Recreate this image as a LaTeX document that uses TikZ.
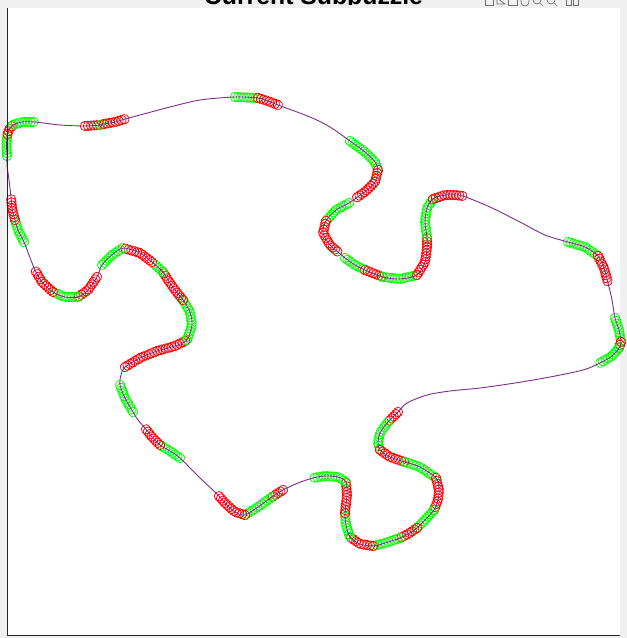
\documentclass[tikz,border=0pt]{standalone}
\usepackage{fontspec}
\setmainfont{Liberation Sans}
\usetikzlibrary{decorations.markings}
\definecolor{mred}{RGB}{255,0,0}
\definecolor{mgreen}{RGB}{0,255,0}
\definecolor{mpurple}{RGB}{126,47,142}
\definecolor{figgray}{RGB}{240,240,240}
\definecolor{axgray}{RGB}{38,38,38}
\definecolor{icongray}{RGB}{110,110,110}
\tikzset{
  rseg/.style={decoration={markings, mark=between positions 0 and 1 step 3pt with {\draw[mred, line width=0.75pt] (0,0) circle[radius=4.7pt];}}, decorate},
  gseg/.style={decoration={markings, mark=between positions 0 and 1 step 3pt with {\draw[mgreen, line width=0.75pt] (0,0) circle[radius=4.7pt];}}, decorate},
  curve/.style={draw=mpurple, line width=0.9pt},
  icon/.style={draw=icongray, line width=0.7pt},
  axisline/.style={draw=axgray, line width=1pt},
  titletext/.style={font=\bfseries\fontsize{24.8}{28}\selectfont, anchor=base, inner sep=0pt},
}
\begin{document}
\begin{tikzpicture}[x=1pt,y=-1pt]
\fill[figgray] (0,0) rectangle (627,638);
\useasboundingbox (0,0) rectangle (627,638);
\begin{scope}
\clip (0,-30) rectangle (627,4.5);
\node[titletext] (title) at (313.5,4) {Current Subpuzzle};
\end{scope}
\fill[white] (7,8) rectangle (620,635);
% toolbar icons (cut off)
\draw[icon] (485,-2) rectangle (493,5);
\draw[icon] (497,-2) -- (505,4) -- (497,4) -- cycle;
\draw[icon] (508,-2) rectangle (517,5);
\draw[icon] (521,-2) -- (521,2) arc[start angle=180,end angle=360,radius=4pt] -- (529,-2);
\draw[icon] (537,0) circle[radius=4pt]; \draw[icon] (540,3) -- (543,6);
\draw[icon] (551,0) circle[radius=4pt]; \draw[icon] (554,3) -- (557,6);
\draw[icon] (566,-2) rectangle (571,5); \draw[icon] (573,-2) rectangle (578,5);
% colored segments
\path[gseg] plot coordinates {(7,156) (6.5,145) (7.5,134)};
\path[rseg] plot coordinates {(7.5,134) (10,128) (13,125)};
\path[gseg] plot coordinates {(13,125) (22,122) (35,122)};
\path[rseg] plot coordinates {(85,126) (100,125)};
\path[gseg] plot coordinates {(100,125) (104,124)};
\path[rseg] plot coordinates {(104,124) (115,122) (125,119)};
\path[gseg] plot coordinates {(235,97) (258,98)};
\path[rseg] plot coordinates {(258,98) (268,101) (278,105)};
\path[gseg] plot coordinates {(350,141) (365,152) (375,162) (378,170)};
\path[rseg] plot coordinates {(378,170) (375,182) (366,191) (356,198)};
\path[gseg] plot coordinates {(349,203) (336,210) (326,221)};
\path[rseg] plot coordinates {(326,221) (323,233) (330,245) (338,252)};
\path[gseg] plot coordinates {(345,258) (355,265) (365,270)};
\path[rseg] plot coordinates {(365,270) (383,277)};
\path[gseg] plot coordinates {(383,277) (400,279) (417,275)};
\path[rseg] plot coordinates {(417,275) (425,262) (427,248) (427,237)};
\path[gseg] plot coordinates {(427,237) (425,222) (427,208) (433,199)};
\path[rseg] plot coordinates {(433,199) (445,195) (455,195) (463,196)};
\path[gseg] plot coordinates {(568,242) (585,247) (598,256)};
\path[rseg] plot coordinates {(598,256) (604,268) (608,283)};
\path[gseg] plot coordinates {(615,318) (619,330) (621,342)};
\path[rseg] plot coordinates {(621,342) (619,348)};
\path[gseg] plot coordinates {(619,348) (612,356) (600,363)};
\path[rseg] plot coordinates {(398,412) (388,422)};
\path[gseg] plot coordinates {(388,422) (380,433) (378,443) (380,450)};
\path[rseg] plot coordinates {(380,450) (390,457) (405,462)};
\path[gseg] plot coordinates {(405,462) (420,467) (436,478)};
\path[rseg] plot coordinates {(436,478) (439,490) (438,500) (434,510)};
\path[gseg] plot coordinates {(434,510) (425,520) (417,528)};
\path[rseg] plot coordinates {(417,528) (408,534) (400,538)};
\path[gseg] plot coordinates {(400,538) (385,543) (373,546)};
\path[rseg] plot coordinates {(373,546) (360,544) (350,537)};
\path[gseg] plot coordinates {(350,537) (346,525) (345,513)};
\path[rseg] plot coordinates {(345,513) (347,495) (346,482)};
\path[gseg] plot coordinates {(346,482) (338,477) (325,476) (313,478)};
\path[rseg] plot coordinates {(283,490) (272,497)};
\path[gseg] plot coordinates {(272,497) (258,507) (245,515)};
\path[rseg] plot coordinates {(245,515) (235,512) (225,503) (218,495)};
\path[gseg] plot coordinates {(180,458) (170,451) (160,445)};
\path[rseg] plot coordinates {(160,445) (152,437) (145,428)};
\path[gseg] plot coordinates {(133,412) (125,398) (120,385)};
\path[rseg] plot coordinates {(125,367) (140,358) (157,351) (175,346) (187,340)};
\path[gseg] plot coordinates {(187,340) (192,325) (190,312) (183,300)};
\path[rseg] plot coordinates {(183,300) (175,290) (168,280) (163,272)};
\path[gseg] plot coordinates {(163,272) (152,262)};
\path[rseg] plot coordinates {(152,262) (140,253) (123,248)};
\path[gseg] plot coordinates {(123,248) (112,255) (102,265)};
\path[rseg] plot coordinates {(97,277) (88,290) (78,297)};
\path[gseg] plot coordinates {(78,297) (65,297) (53,292)};
\path[rseg] plot coordinates {(53,292) (42,282) (35,270)};
\path[gseg] plot coordinates {(24,242) (18,230) (15,220)};
\path[rseg] plot coordinates {(15,220) (12,208) (11,197)};
% main curve
\draw[curve] plot[smooth cycle] coordinates {
(7,156) (6.5,145) (7.5,134) (10,128) (13,125) (22,122) (35,122)
(60,125) (85,126) (100,125) (104,124) (115,122) (125,119)
(140,115) (170,107) (200,100) (235,97) (258,98) (268,101) (278,105)
(310,117) (330,127) (350,141) (365,152) (375,162) (378,170)
(375,182) (366,191) (356,198) (349,203) (336,210) (326,221)
(323,233) (330,245) (338,252) (345,258) (355,265) (365,270) (383,277)
(400,279) (417,275) (425,262) (427,248) (427,237) (425,222) (427,208) (433,199)
(445,195) (455,195) (463,196) (490,207) (520,222) (545,235) (568,242)
(585,247) (598,256) (604,268) (608,283) (612,300) (615,318) (619,330) (621,342)
(619,348) (612,356) (600,363) (583,370) (550,377) (515,383) (480,388) (450,391)
(427,395) (407,403) (398,412) (388,422) (380,433) (378,443) (380,450) (390,457) (405,462)
(420,467) (436,478) (439,490) (438,500) (434,510) (425,520) (417,528) (408,534) (400,538)
(385,543) (373,546) (360,544) (350,537) (346,525) (345,513) (347,495) (346,482)
(338,477) (325,476) (313,478) (298,483) (283,490) (272,497) (258,507) (245,515)
(235,512) (225,503) (218,495) (200,478) (180,458) (170,451) (160,445) (152,437) (145,428)
(138,420) (133,412) (125,398) (120,385) (121,375) (125,367) (140,358) (157,351) (175,346) (187,340)
(192,325) (190,312) (183,300) (175,290) (168,280) (163,272) (152,262) (140,253) (123,248)
(112,255) (102,265) (97,277) (88,290) (78,297) (65,297) (53,292) (42,282) (35,270)
(29,255) (24,242) (18,230) (15,220) (12,208) (11,197) (9,180) (7,165)};
\draw[axisline] (7,8) -- (7,635) -- (620,635);
\end{tikzpicture}
\end{document}
